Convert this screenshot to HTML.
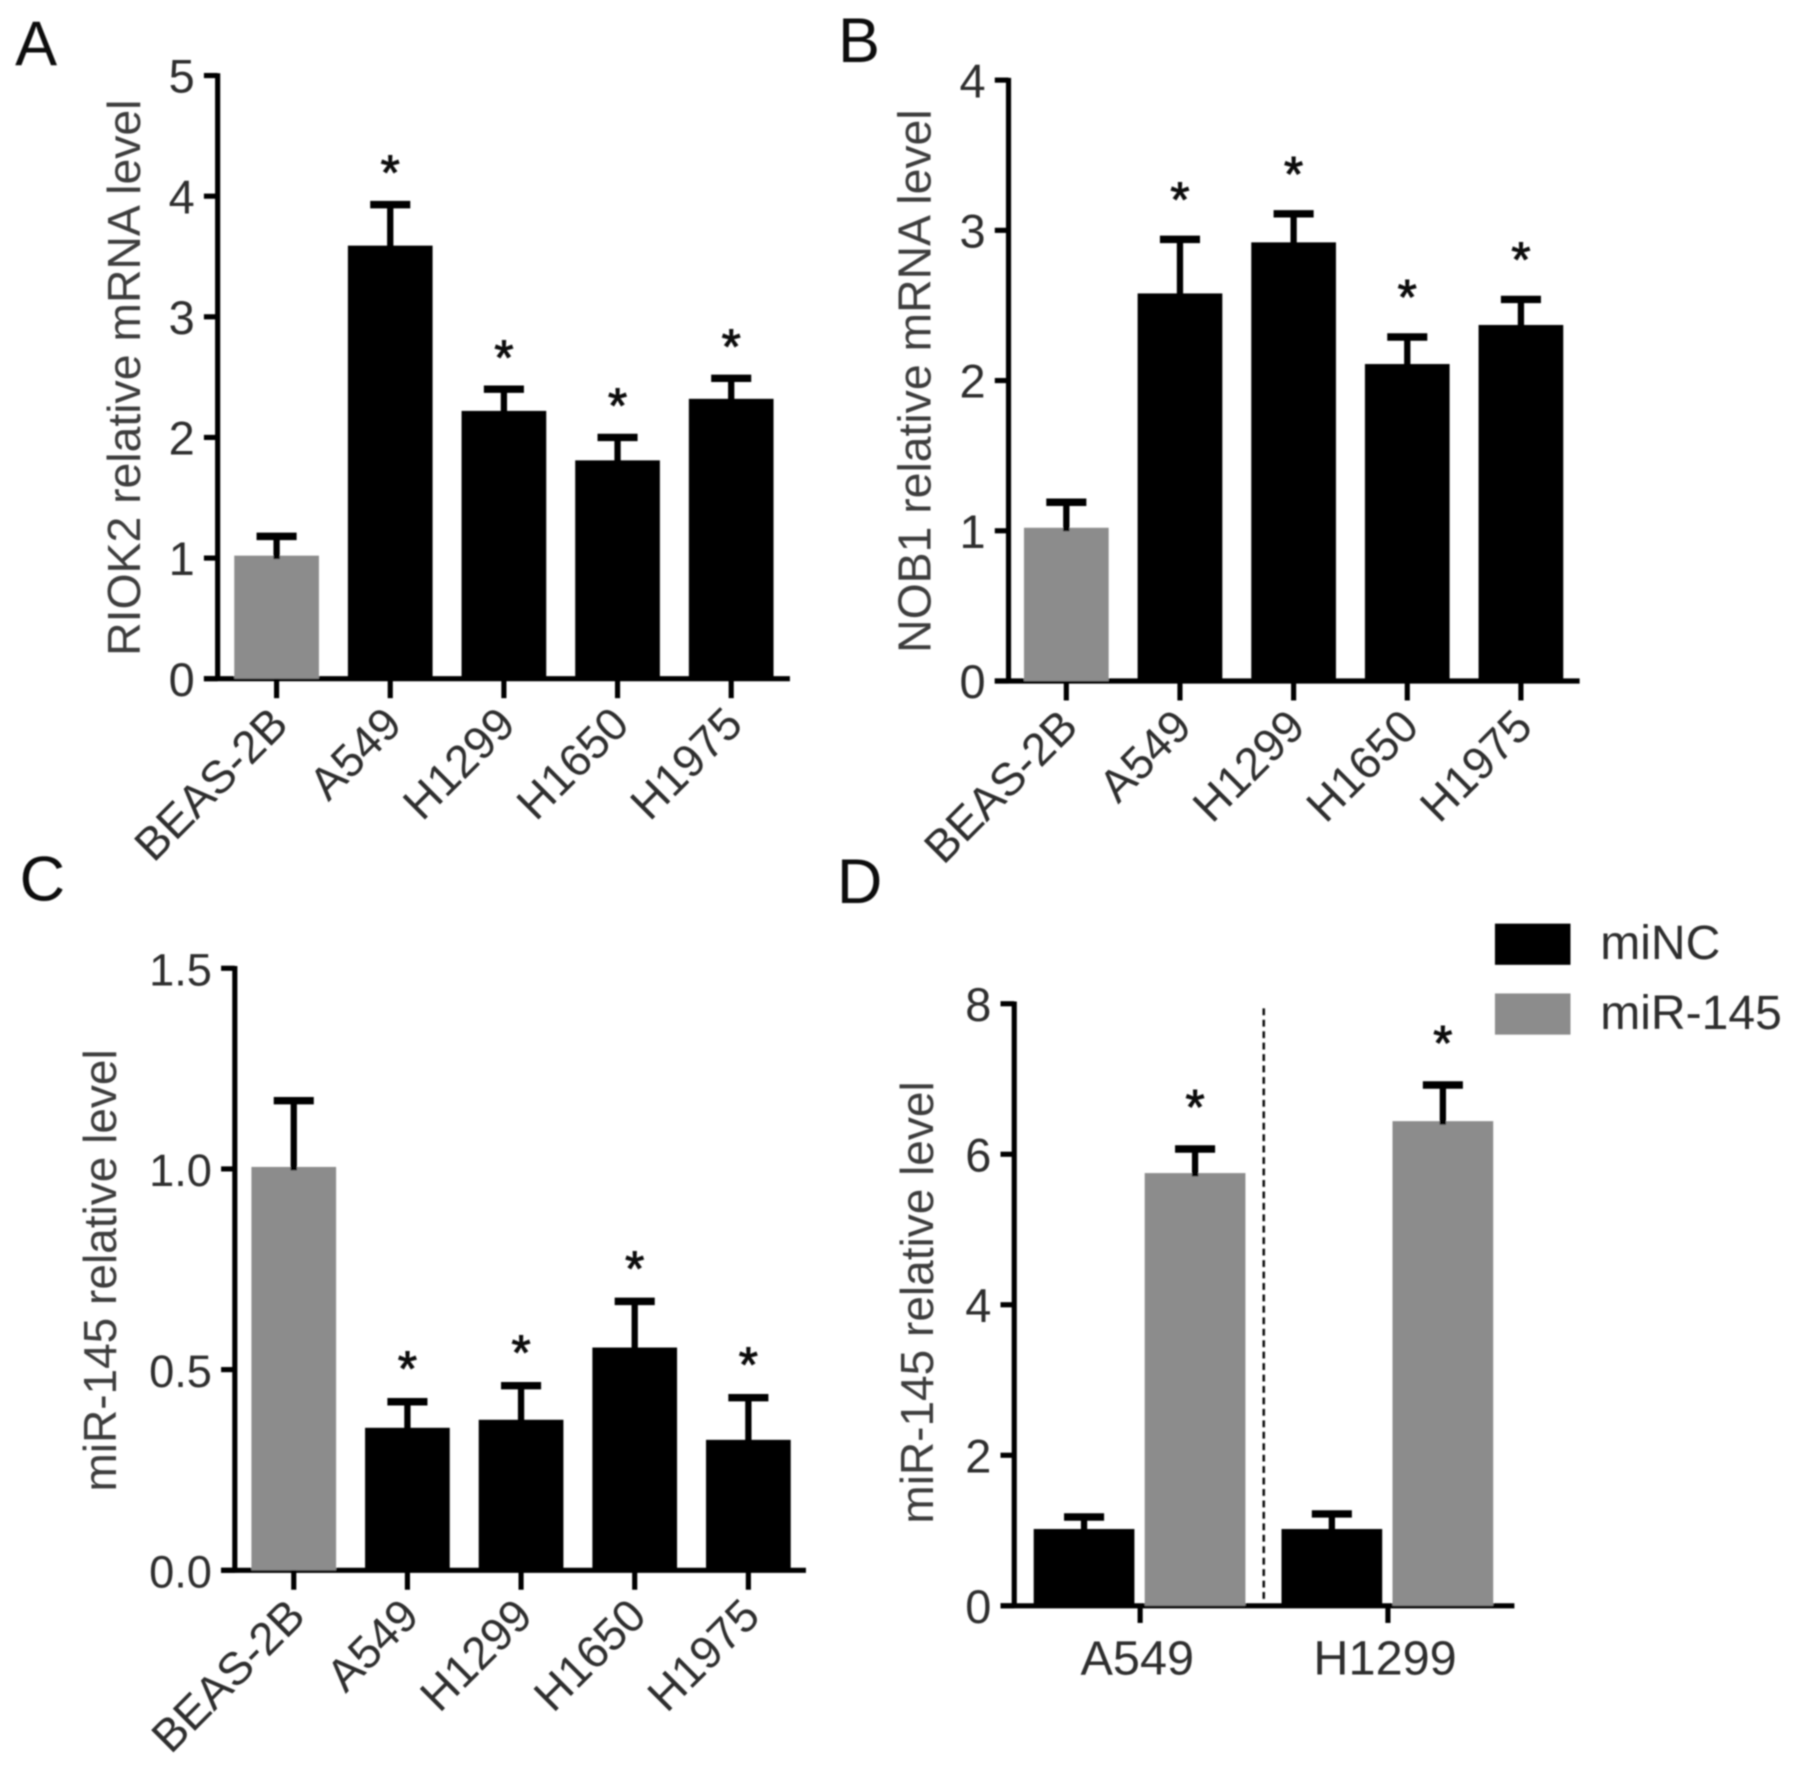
<!DOCTYPE html>
<html lang="en">
<head>
<meta charset="utf-8">
<title>Relative expression bar charts</title>
<style>
html,body{margin:0;padding:0;background:#fff;}
svg{display:block;}
text{font-family:"Liberation Sans",Arial,sans-serif;}
</style>
</head>
<body>
<svg id="figure" xmlns="http://www.w3.org/2000/svg" width="1795" height="1766" viewBox="0 0 1568 1543">
<defs><filter id="soft" x="-2%" y="-2%" width="104%" height="104%"><feGaussianBlur stdDeviation="0.8"/></filter></defs>
<rect x="0" y="0" width="1568" height="1543" fill="#fff"/>
<g id="plot" filter="url(#soft)"></g>
</svg>
<script>
const cellLines = ["BEAS-2B", "A549", "H1299", "H1650", "H1975"];
const panelAValues = [1.02, 3.59, 2.22, 1.81, 2.32];
const panelAErrorTops = [1.18, 3.93, 2.40, 2.00, 2.49];
const panelATicks = ["0", "1", "2", "3", "4", "5"];
const panelBValues = [1.02, 2.58, 2.92, 2.11, 2.37];
const panelBErrorTops = [1.19, 2.94, 3.11, 2.29, 2.54];
const panelBTicks = ["0", "1", "2", "3", "4"];
const panelCValues = [1.005, 0.355, 0.375, 0.555, 0.325];
const panelCErrorTops = [1.17, 0.42, 0.46, 0.67, 0.43];
const panelCTicks = ["0.0", "0.5", "1.0", "1.5"];
const panelDCategories = ["A549", "H1299"];
const panelDMiNC = [1.02, 1.02];
const panelDMiNCErrorTops = [1.18, 1.22];
const panelDMiR145 = [5.75, 6.44];
const panelDMiR145ErrorTops = [6.07, 6.92];
const panelDTicks = ["0", "2", "4", "6", "8"];
const panelDLegend = ["miNC", "miR-145"];

const BLACK = "#000";
const GRAY = "#8c8c8c";
const INK = "#2e2e2e";
const plot = document.getElementById("plot");
const NS = "http://www.w3.org/2000/svg";

function make(tag, attrs, parent) {
  const node = document.createElementNS(NS, tag);
  for (const key in attrs) node.setAttribute(key, attrs[key]);
  parent.appendChild(node);
  return node;
}
function line(x1, y1, x2, y2, width, parent) {
  return make("line", {x1: x1, y1: y1, x2: x2, y2: y2, stroke: BLACK, "stroke-width": width}, parent);
}
function yScale(p, v) {
  const max = parseFloat(p.ticks[p.ticks.length - 1]);
  return p.base - (v / max) * (p.base - p.top);
}

function drawAxes(p, g) {
  const yAxis = line(p.axisX, p.top - 2, p.axisX, p.base + 2, 4.5, g);
  
  
  const xAxis = line(p.axisX - 12, p.base, p.axisEnd, p.base, 4.5, g);
  
  
  p.ticks.forEach(function (t) {
    const y = yScale(p, parseFloat(t));
    const tick = line(p.axisX - 12, y, p.axisX, y, 4.5, g);
    
    
    const label = make("text", {x: p.axisX - 20, y: y + 15, "text-anchor": "end", "font-size": p.tickSize, fill: INK}, g);
    label.textContent = t;
    
    
  });
  const title = make("text", {transform: "translate(" + p.titleX + "," + p.titleY + ") rotate(-90)", "text-anchor": "middle", "font-size": p.titleSize, fill: "#3c3c3c"}, g);
  title.textContent = p.yTitle;
  
  
  const letter = make("text", {x: p.letterX, y: p.letterY, "font-size": 55, fill: "#111"}, g);
  letter.textContent = p.letter;
  
  
}

function drawBar(p, g, cx, width, value, errTop, color, star, name) {
  const yVal = yScale(p, value);
  const yErr = yScale(p, errTop);
  const bar = make("rect", {x: cx - width / 2, y: yVal, width: width, height: p.base - yVal, fill: color}, g);
  
  
  const stem = line(cx, yErr, cx, yVal + 3, 5.5, g);
  
  
  const cap = line(cx - 17.5, yErr, cx + 17.5, yErr, 6.5, g);
  
  
  if (star) {
    const mark = make("text", {x: cx, y: yErr - p.starGap + 18, "text-anchor": "middle", "font-size": 43, fill: "#111", stroke: "#111", "stroke-width": 0.9}, g);
    mark.textContent = "*";
    
    
  }
}

function drawCellLinePanel(p) {
  const g = make("g", {}, plot);
  
  
  drawAxes(p, g);
  const center = function (i) { return p.firstX + i * p.step; };
  p.categories.forEach(function (name, i) {
    const cx = center(i);
    const barName = p.id + "-bar-" + name.toLowerCase();
    drawBar(p, g, cx, 74, p.values[i], p.errorTops[i], i === 0 ? GRAY : BLACK, p.starred(i), barName);
    const tick = line(cx, p.base, cx, p.base + 17, 4.5, g);
    
    
    const label = make("text", {transform: "translate(" + (cx + 12) + "," + (p.base + 42) + ") rotate(-45)", "text-anchor": "end", "font-size": 40, fill: INK}, g);
    label.textContent = name;
    
    
  });
}

drawCellLinePanel({id: "panel-a", letter: "A", letterX: 13, letterY: 57, axisX: 190, axisEnd: 690, top: 66, base: 593, firstX: 241.5, step: 99.3,
  titleX: 122, titleY: 330, titleSize: 40.5, tickSize: 41, yTitle: "RIOK2 relative mRNA level", starGap: 31, ticks: panelATicks, categories: cellLines,
  values: panelAValues, errorTops: panelAErrorTops, starred: function (i) { return i > 0; }});
drawCellLinePanel({id: "panel-b", letter: "B", letterX: 732, letterY: 54, axisX: 881, axisEnd: 1380, top: 70, base: 595, firstX: 931.5, step: 99.3,
  titleX: 813, titleY: 333, titleSize: 40.5, tickSize: 41, yTitle: "NOB1 relative mRNA level", starGap: 38, ticks: panelBTicks, categories: cellLines,
  values: panelBValues, errorTops: panelBErrorTops, starred: function (i) { return i > 0; }});
drawCellLinePanel({id: "panel-c", letter: "C", letterX: 17, letterY: 787, axisX: 205, axisEnd: 704, top: 846, base: 1372, firstX: 256.5, step: 99.3,
  titleX: 101, titleY: 1110, titleSize: 40.2, tickSize: 39.5, yTitle: "miR-145 relative level", starGap: 32, ticks: panelCTicks, categories: cellLines,
  values: panelCValues, errorTops: panelCErrorTops, starred: function (i) { return i > 0; }});

(function drawPanelD() {
  const p = {id: "panel-d", letter: "D", letterX: 731, letterY: 789, axisX: 886, axisEnd: 1323, top: 877, base: 1403, firstX: 996, step: 216.5,
    titleX: 815, titleY: 1138, titleSize: 40.2, tickSize: 41, yTitle: "miR-145 relative level", starGap: 40, ticks: panelDTicks};
  const g = make("g", {}, plot);
  
  
  drawAxes(p, g);
  panelDCategories.forEach(function (name, i) {
    const cx = p.firstX + i * p.step;
    const key = name.toLowerCase();
    drawBar(p, g, cx - 49, 88, panelDMiNC[i], panelDMiNCErrorTops[i], BLACK, false, p.id + "-bar-minc-" + key);
    drawBar(p, g, cx + 48, 88, panelDMiR145[i], panelDMiR145ErrorTops[i], GRAY, true, p.id + "-bar-mir145-" + key);
    const tick = line(cx, p.base, cx, p.base + 15, 4.5, g);
    
    
    const label = make("text", {x: cx - 2.5, y: p.base + 60, "text-anchor": "middle", "font-size": 42.5, fill: INK}, g);
    label.textContent = name;
    
    
  });
  const divider = make("line", {x1: 1104, y1: 881, x2: 1104, y2: 1400, stroke: "#111", "stroke-width": 2.2, "stroke-dasharray": "6 4"}, g);
  
  
  panelDLegend.forEach(function (entry, i) {
    const row = make("g", {transform: "translate(0," + (i * 61) + ")"}, g);
    
    
    const swatch = make("rect", {x: 1306, y: 807, width: 66, height: 36, fill: i === 0 ? BLACK : GRAY}, row);
    
    
    const text = make("text", {x: 1398, y: 838, "font-size": 42, fill: INK}, row);
    text.textContent = entry;
    
    
  });
})();
</script>
</body>
</html>
